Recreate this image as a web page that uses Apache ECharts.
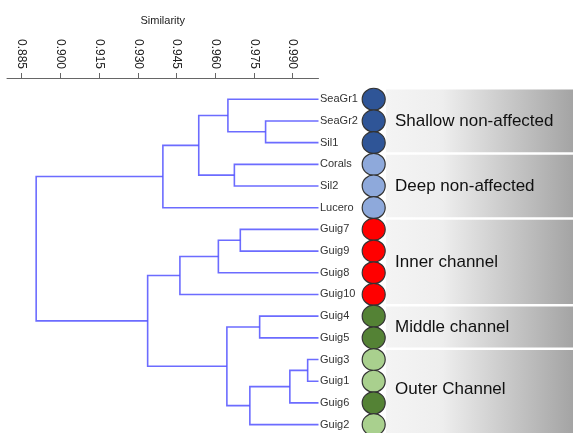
<!DOCTYPE html>
<html><head><meta charset="utf-8">
<script src="https://cdn.jsdelivr.net/npm/echarts@6/dist/echarts.min.js"></script>
<style>html,body{margin:0;padding:0;background:#fff}#c{width:573px;height:433px}</style>
</head><body><div id="c"></div>
<script>
// ---- data ----
const leaves = ['SeaGr1','SeaGr2','Sil1','Corals','Sil2','Lucero','Guig7','Guig9','Guig8','Guig10','Guig4','Guig5','Guig3','Guig1','Guig6','Guig2'];
const leafColors = ['#2F5597','#2F5597','#2F5597','#8EA9DB','#8EA9DB','#8EA9DB','#FF0000','#FF0000','#FF0000','#FF0000','#548235','#548235','#A9D08E','#A9D08E','#548235','#A9D08E'];
const leafSimilarity = 1.0;
// merges: node ids 0..15 are leaves, 16.. are merges in order
const mergeLeft   = [1, 0, 3, 17, 19, 6, 21, 22, 10, 12, 25, 26, 24, 23, 20];
const mergeRight  = [2, 16, 4, 18, 5, 7, 8, 9, 11, 13, 14, 15, 27, 28, 29];
const mergeHeight = [0.9795, 0.9649, 0.9674, 0.9536, 0.9397, 0.9697, 0.9612, 0.9463, 0.9772, 0.9958, 0.9889, 0.9734, 0.9645, 0.9338, 0.8906];
const tickValues = [0.885, 0.900, 0.915, 0.930, 0.945, 0.960, 0.975, 0.990];
const groupNames = ['Shallow non-affected','Deep non-affected','Inner channel','Middle channel','Outer Channel'];
const groupStart = [0, 3, 6, 10, 12];
const groupEnd   = [2, 5, 9, 11, 15];

// ---- build tree geometry in data space ----
const nodeX = leaves.map(() => leafSimilarity);
const nodeY = leaves.map((_, i) => i);
const segs = [];
mergeHeight.forEach((h, k) => {
  const a = mergeLeft[k], b = mergeRight[k];
  segs.push([nodeX[a], nodeY[a], nodeX[b], nodeY[b], h]);
  nodeX.push(h);
  nodeY.push((nodeY[a] + nodeY[b]) / 2);
});

const FONT = '"Liberation Sans", Arial, sans-serif';
const yMin = -0.98, yMax = 15.387;
const chart = echarts.init(document.getElementById('c'));
chart.setOption({
  animation: false,
  backgroundColor: '#fff',
  grid: [
    {left: 7, top: 78, width: 311.5, bottom: 0},
    {left: 318.5, top: 78, right: 0, bottom: 0}
  ],
  xAxis: [
    {gridIndex: 0, type: 'value', position: 'top', min: 0.8793, max: 1.0,
     name: 'Similarity', nameLocation: 'middle', nameGap: 52,
     nameTextStyle: {fontSize: 11, color: '#222', fontFamily: FONT},
     splitLine: {show: false},
     axisLine: {show: true, onZero: false, lineStyle: {color: '#666', width: 1}},
     axisTick: {show: true, length: 5, customValues: tickValues, lineStyle: {color: '#666'}},
     axisLabel: {show: true, rotate: 90, margin: 9, fontSize: 12, color: '#222', fontFamily: FONT,
       customValues: tickValues, formatter: v => v.toFixed(3)}},
    {gridIndex: 1, type: 'value', min: 0, max: 254.5, show: false}
  ],
  yAxis: [
    {gridIndex: 0, type: 'value', inverse: true, min: yMin, max: yMax, show: false},
    {gridIndex: 1, type: 'value', inverse: true, min: yMin, max: yMax, show: false}
  ],
  series: [
    {type: 'custom', xAxisIndex: 0, yAxisIndex: 0, clip: false,
     data: segs, encode: {x: [0, 2, 4], y: [1, 3]},
     renderItem: (params, api) => {
       const p1 = api.coord([api.value(0), api.value(1)]);
       const p2 = api.coord([api.value(4), api.value(1)]);
       const p3 = api.coord([api.value(4), api.value(3)]);
       const p4 = api.coord([api.value(2), api.value(3)]);
       return {type: 'polyline', shape: {points: [p1, p2, p3, p4]},
         style: {stroke: '#5252ff', lineWidth: 1.6, fill: null, opacity: 0.85}};
     }},
    {type: 'custom', xAxisIndex: 1, yAxisIndex: 1, clip: false, z: 1,
     data: groupNames.map((n, i) => [groupStart[i], groupEnd[i], n]),
     encode: {y: [0, 1]},
     renderItem: (params, api) => {
       const i = params.dataIndex;
       const tl = api.coord([67.5, groupStart[i] - 0.5]);
       const br = api.coord([254.5, groupEnd[i] + 0.5]);
       const top = tl[1] + 1.2, bot = br[1] - 1.2;
       return {type: 'group', children: [
         {type: 'rect', shape: {x: tl[0], y: top, width: br[0] - tl[0], height: bot - top},
          style: {fill: new echarts.graphic.LinearGradient(0, 0, 1, 0, [
            {offset: 0, color: '#f4f4f4'}, {offset: 0.3, color: '#eeeeee'}, {offset: 1, color: '#a4a4a4'}])}},
         {type: 'text', x: tl[0] + 9, y: (top + bot) / 2 - (i === 4 ? 3 : 0),
          style: {text: groupNames[i], fontSize: 17, fill: '#111', fontFamily: FONT, verticalAlign: 'middle', align: 'left'}}
       ]};
     }},
    {type: 'custom', xAxisIndex: 1, yAxisIndex: 1, clip: false, z: 3,
     data: leaves.map((n, i) => [i]), encode: {y: 0},
     renderItem: (params, api) => {
       const i = params.dataIndex;
       const t = api.coord([1.5, i]);
       const c = api.coord([55.2, i]);
       return {type: 'group', children: [
         {type: 'text', x: t[0], y: t[1],
          style: {text: leaves[i], fontSize: 11, fill: '#333', fontFamily: FONT, verticalAlign: 'middle', align: 'left'}},
         {type: 'ellipse', shape: {cx: c[0], cy: c[1], rx: 11.5, ry: 11},
          style: {fill: leafColors[i], stroke: '#333', lineWidth: 1.2}}
       ]};
     }}
  ]
});
</script></body></html>
